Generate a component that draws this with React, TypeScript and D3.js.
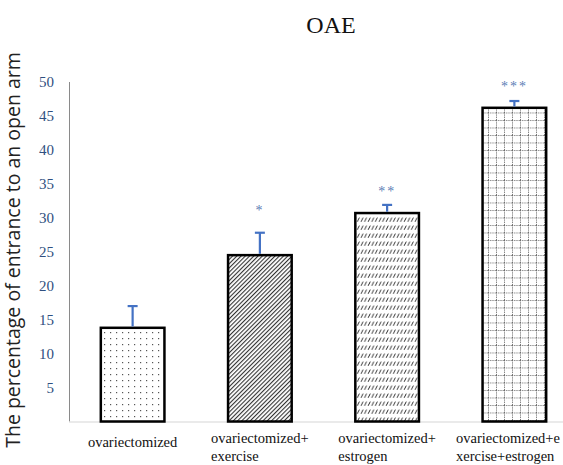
import React, { useEffect, useRef } from "react";
import * as d3 from "d3";

const categories = [
  ["ovariectomized"],
  ["ovariectomized+", "exercise"],
  ["ovariectomized+", "estrogen"],
  ["ovariectomized+e", "xercise+estrogen"],
];
const means = [13.8, 24.5, 30.7, 46.2];
const errors = [3.2, 3.3, 1.2, 1.0];
const sigLabels = ["", "*", "**", "***"];
const sigLevels = [0, 31.3, 34.1, 49.6];
const yTicks = [5, 10, 15, 20, 25, 30, 35, 40, 45, 50];
const patterns = ["pDots", "pDiag", "pSlash", "pGrid"];

const W = 563;
const H = 465;
const SERIF = "'Liberation Serif', 'Times New Roman', 'DejaVu Serif', serif";

export default function App() {
  const ref = useRef<SVGSVGElement | null>(null);

  useEffect(() => {
    const svg = d3.select(ref.current);
    svg.selectAll("*").remove();

    const defs = svg.append("defs");
    const p1 = defs.append("pattern").attr("id", "pDots").attr("patternUnits", "userSpaceOnUse")
      .attr("width", 6).attr("height", 6);
    p1.append("rect").attr("width", 6).attr("height", 6).attr("fill", "#fff");
    p1.append("rect").attr("x", 2).attr("y", 2).attr("width", 1.2).attr("height", 1.2).attr("fill", "#555");

    const p2 = defs.append("pattern").attr("id", "pDiag").attr("patternUnits", "userSpaceOnUse")
      .attr("width", 3).attr("height", 3).attr("patternTransform", "rotate(45)");
    p2.append("rect").attr("width", 3).attr("height", 3).attr("fill", "#fff");
    p2.append("rect").attr("x", 0).attr("width", 1.1).attr("height", 3).attr("fill", "#333");

    const p3 = defs.append("pattern").attr("id", "pSlash").attr("patternUnits", "userSpaceOnUse")
      .attr("width", 3.6).attr("height", 8);
    p3.append("rect").attr("width", 3.6).attr("height", 8).attr("fill", "#fff");
    p3.append("line").attr("x1", 1).attr("y1", 5.8).attr("x2", 3).attr("y2", 1.6)
      .attr("stroke", "#111").attr("stroke-width", 0.9);

    const p4 = defs.append("pattern").attr("id", "pGrid").attr("patternUnits", "userSpaceOnUse")
      .attr("width", 8).attr("height", 7.5);
    p4.append("rect").attr("width", 8).attr("height", 7.5).attr("fill", "#fff");
    p4.append("line").attr("x1", 0).attr("y1", 0.5).attr("x2", 8).attr("y2", 0.5)
      .attr("stroke", "#666").attr("stroke-width", 0.9).attr("stroke-dasharray", "1.2,1");
    p4.append("line").attr("x1", 0.5).attr("y1", 0).attr("x2", 0.5).attr("y2", 7.5)
      .attr("stroke", "#666").attr("stroke-width", 0.9).attr("stroke-dasharray", "1.2,1");

    const x = d3.scaleBand<number>().domain(d3.range(categories.length)).range([69, 578])
      .paddingInner(0.5).paddingOuter(0.25);
    const y = d3.scaleLinear().domain([0, 50]).range([421.5, 82]);

    svg.append("text").attr("x", 331).attr("y", 33).attr("text-anchor", "middle")
      .style("font-family", SERIF).attr("font-size", 24)
      .attr("fill", "#111").text("OAE");

    svg.append("text").attr("transform", `translate(20,${250}) rotate(-90)`)
      .attr("text-anchor", "middle").style("font-family", "'Open Sans', 'DejaVu Sans', sans-serif")
      .attr("font-size", 19.5).attr("fill", "#222")
      .text("The percentage of entrance to an open arm");

    svg.append("line").attr("x1", 69.5).attr("x2", 69.5).attr("y1", y(50)).attr("y2", y(0))
      .attr("stroke", "#8a8a8a").attr("stroke-width", 1);
    svg.append("line").attr("x1", 69).attr("x2", W).attr("y1", y(0) + 0.5).attr("y2", y(0) + 0.5)
      .attr("stroke", "#d6d6d6").attr("stroke-width", 1.2);

    svg.append("g").selectAll("text").data(yTicks).enter().append("text")
      .attr("x", 54).attr("y", (d) => y(d)).attr("dy", "0.35em").attr("text-anchor", "end")
      .style("font-family", SERIF).attr("font-size", 15)
      .attr("fill", "#2f4f80").text((d) => String(d));

    const bw = x.bandwidth();
    svg.append("g").selectAll("rect").data(means).enter().append("rect")
      .attr("x", (_, i) => x(i)!).attr("y", (d) => y(d)).attr("width", bw)
      .attr("height", (d) => y(0) - y(d)).attr("fill", (_, i) => `url(#${patterns[i]})`)
      .attr("stroke", "#000").attr("stroke-width", 2.5);

    const eg = svg.append("g").attr("stroke", "#4472c4").attr("stroke-width", 2.2);
    means.forEach((m, i) => {
      const cx = x(i)! + bw / 2;
      eg.append("line").attr("x1", cx).attr("x2", cx).attr("y1", y(m) - 1.3).attr("y2", y(m + errors[i]));
      eg.append("line").attr("x1", cx - 5).attr("x2", cx + 5).attr("y1", y(m + errors[i])).attr("y2", y(m + errors[i]));
    });

    svg.append("g").selectAll("text").data(sigLabels).enter().append("text")
      .attr("x", (_, i) => x(i)! + bw / 2).attr("y", (_, i) => y(sigLevels[i]) + 6)
      .attr("text-anchor", "middle").style("font-family", SERIF)
      .attr("font-size", 14).attr("letter-spacing", 2).attr("fill", "#5b7db5")
      .text((d) => d);

    const fs = 14.5;
    categories.forEach((lines, i) => {
      const cx = x(i)! + bw / 2;
      if (lines.length === 1) {
        svg.append("text").attr("x", cx).attr("y", 447).attr("text-anchor", "middle")
          .style("font-family", SERIF).attr("font-size", fs).attr("fill", "#111").text(lines[0]);
      } else {
        const t1 = svg.append("text").attr("y", 443).attr("text-anchor", "start")
          .style("font-family", SERIF).attr("font-size", fs).attr("fill", "#111").text(lines[0]);
        const t2 = svg.append("text").attr("y", 461).attr("text-anchor", "start")
          .style("font-family", SERIF).attr("font-size", fs).attr("fill", "#111").text(lines[1]);
        const w1 = (t1.node() as SVGTextElement).getComputedTextLength();
        const w2 = (t2.node() as SVGTextElement).getComputedTextLength();
        const left = Math.min(cx - w1 / 2, W - 3 - Math.max(w1, w2));
        t1.attr("x", left);
        t2.attr("x", left);
      }
    });
  }, []);

  return (
    <svg ref={ref} width={W} height={H}
      style={{ position: "absolute", left: 0, top: 0, background: "#fff" }} />
  );
}
